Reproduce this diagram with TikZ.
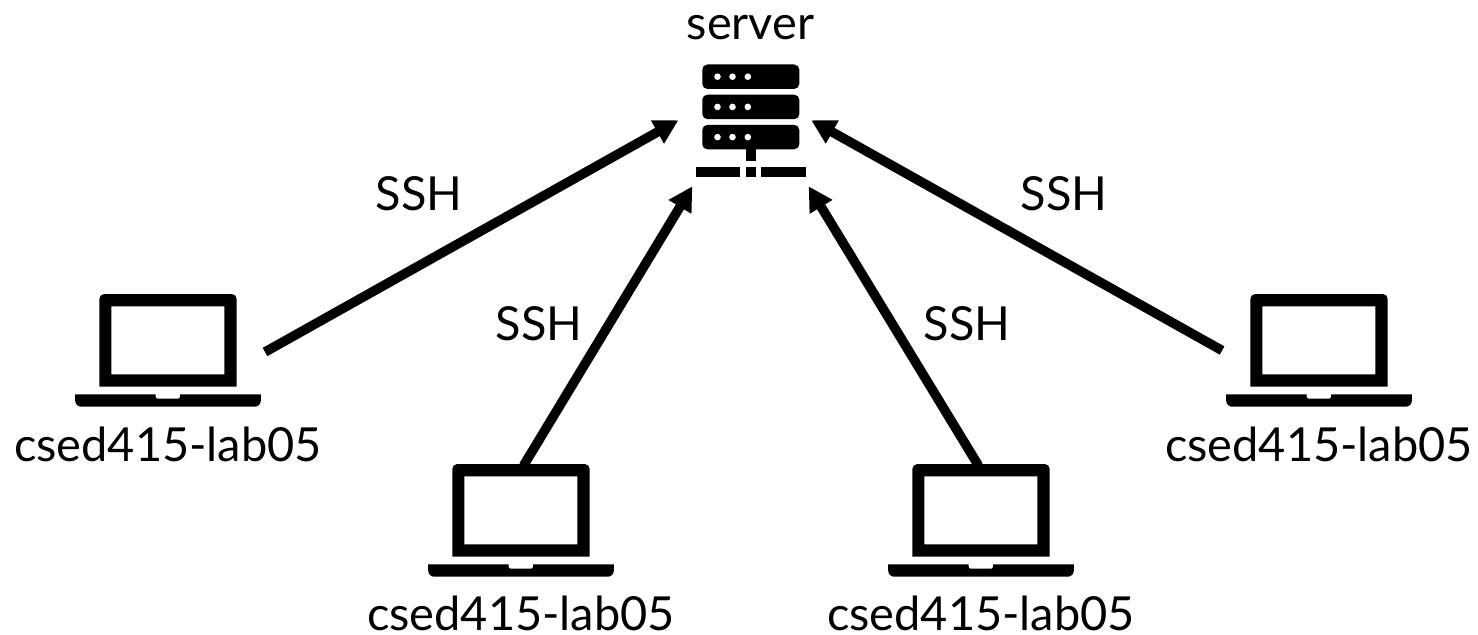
\documentclass[tikz,border=0pt]{standalone}
\usepackage{fontspec}
\setmainfont{Lato}
\usetikzlibrary{arrows.meta}
\tikzset{
    lbl/.style={anchor=base, inner sep=0, font=\fontsize{26.7}{30}\selectfont},
    laptopbox/.style={inner sep=0, minimum width=3.72cm, minimum height=2.26cm},
    serverbox/.style={inner sep=0, minimum width=2.312cm, minimum height=2.628cm},
    link/.style={line width=0.19cm, -{Triangle[length=0.48cm, width=0.5cm]}},
    pics/laptop/.style={code={
        \fill[even odd rule] (-68.7, 36.2) -- (-68.7, -51.5) arc (180:270:5) -- (63.7, -56.5) arc (270:360:5) -- (68.7, 36.2) -- cycle
            (-56.7, -44.2) rectangle (56.3, 23.8);
        \fill (-92.8, 43.8) -- (-12.3, 43.8) -- (-12.3, 46.2) arc (180:90:2) -- (10, 48.2) arc (90:0:2) -- (12, 43.8) -- (92.8, 43.8)
            -- (92.8, 50.2) arc (0:90:6) -- (-86.8, 56.2) arc (90:180:6) -- cycle;
    }},
    pics/rack/.style={code={
        \fill[rounded corners=0.1cm] (-48.5, -12.2) rectangle (48.5, 12.2);
        \fill[white] (-33.3, 0) circle (3.3);
        \fill[white] (-18.3, 0) circle (3.3);
        \fill[white] (-3, 0) circle (3.3);
    }},
}
\begin{document}
\begin{tikzpicture}[x=0.02cm, y=-0.02cm]
    \useasboundingbox (0, 0) rectangle (1478, 635);

    \node[serverbox] (srv) at (750.5, 120.3) {};
    \node[laptopbox] (lapA) at (168, 350.5) {};
    \node[laptopbox] (lapB) at (521, 520.5) {};
    \node[laptopbox] (lapC) at (981, 520.5) {};
    \node[laptopbox] (lapD) at (1319, 350.5) {};

    % server icon
    \pic at (750.8, 76.7) {rack};
    \pic at (750.8, 106.9) {rack};
    \pic at (750.8, 137.1) {rack};
    \fill (746.3, 149) rectangle (755.7, 161);
    \fill (696.3, 167.3) rectangle (740.3, 176.7);
    \fill (746.3, 167.3) rectangle (755.7, 176.7);
    \fill (761.3, 167.3) rectangle (805.7, 176.7);
    \node[lbl] (srvname) at (750.5, 40) {server};

    \pic at (lapA) {laptop};
    \pic at (lapB) {laptop};
    \pic at (lapC) {laptop};
    \pic at (lapD) {laptop};
    \node[lbl] (nameA) at (168, 461) {csed415-lab05};
    \node[lbl] (nameB) at (521, 630) {csed415-lab05};
    \node[lbl] (nameC) at (981, 630) {csed415-lab05};
    \node[lbl] (nameD) at (1319, 461) {csed415-lab05};

    \draw[link] ([xshift=0.074cm, yshift=-0.03cm]lapA.east) -- ([xshift=-0.28cm]srv.west);
    \draw[link] ([xshift=0.05cm, yshift=-0.04cm]lapB.north) -- (srv.south west);
    \draw[link] ([xshift=-0.05cm, yshift=-0.04cm]lapC.north) -- (srv.south east);
    \draw[link] ([xshift=-0.072cm]lapD.west) -- ([xshift=0.054cm]srv.east);

    \node[lbl] (sshA) at (419, 211) {SSH};
    \node[lbl] (sshB) at (539, 340) {SSH};
    \node[lbl] (sshC) at (967, 340) {SSH};
    \node[lbl] (sshD) at (1064, 211) {SSH};
\end{tikzpicture}
\end{document}
